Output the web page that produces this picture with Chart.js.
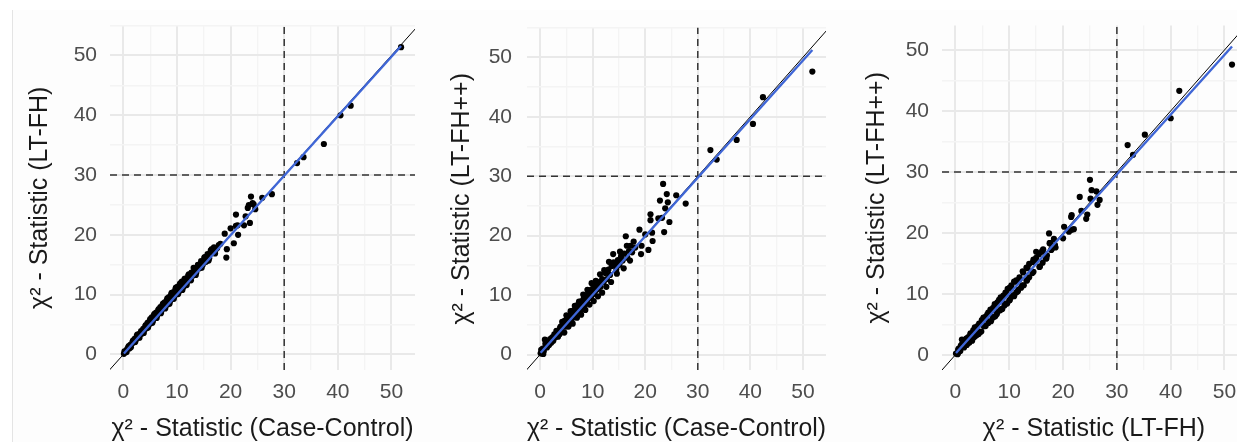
<!DOCTYPE html>
<html>
<head>
<meta charset="utf-8">
<script src="https://cdn.jsdelivr.net/npm/chart.js@4.4.1/dist/chart.umd.min.js"></script>
<style>
  html, body { margin: 0; padding: 0; background: #fff; overflow: hidden; }
  #page { position: relative; width: 1237px; height: 445px; overflow: hidden; }
  #frame { position: absolute; left: 12px; top: 10px; width: 1225px; height: 432px; background: #fdfdfd; border-left: 1px solid #e4e4e4; }
  canvas { position: absolute; top: 0; }
</style>
</head>
<body>
<div id="page">
  <div id="frame"></div>
  <canvas id="p1" width="420" height="445" style="left:0px"></canvas>
  <canvas id="p2" width="410" height="445" style="left:420px"></canvas>
  <canvas id="p3" width="420" height="445" style="left:830px"></canvas>
</div>
<script>
// chi2 statistics per SNP, same SNP order in the three arrays
const ccStat = [
  0.1, 0.3, 0.5, 0.7, 0.9, 1.1, 1.3, 1.5, 1.7, 1.9,
  2.1, 2.3, 2.5, 2.7, 2.9, 3.1, 3.3, 3.5, 3.7, 3.9,
  4.1, 4.3, 4.5, 4.7, 4.9, 5.1, 5.3, 5.5, 5.7, 5.9,
  6.1, 6.3, 6.5, 6.7, 6.9, 7.1, 7.3, 7.5, 7.7, 7.9,
  8.1, 8.3, 8.5, 8.7, 8.9, 9.1, 9.3, 9.5, 9.7, 9.9,
  10.1, 10.3, 10.5, 10.7, 10.9, 11.2, 11.5, 11.8, 12.1, 12.4,
  12.7, 13.0, 13.3, 13.6, 13.9, 14.2, 14.5, 14.8, 15.1, 15.4,
  15.7, 16.0, 16.3, 16.6, 16.9, 17.2, 17.5, 17.8, 18.1, 18.9,
  19.2, 20.6, 19.3, 20.0, 21.4, 21.3, 21.0, 21.0, 22.5, 24.6,
  23.6, 23.4, 25.9, 24.1, 22.8, 24.3, 23.8, 23.2, 27.7, 32.4,
  33.6, 37.4, 40.5, 42.4, 51.8,
  0.2, 0.6, 1.0, 1.4, 1.8, 2.2, 2.6, 3.0, 3.4, 3.8,
  4.2, 4.6, 5.0, 5.4, 5.8, 6.2, 6.6, 7.0, 7.4, 7.8,
  8.2, 8.6, 9.0, 9.4, 9.8, 10.2, 10.6, 11.0, 11.4, 11.8,
  12.2, 12.6, 13.1, 13.5, 14.0, 14.6, 15.2, 15.9, 16.5, 17.1
];
const ltfhStat = [
  0.1, 0.4, 0.6, 0.9, 1.2, 1.0, 1.6, 1.7, 2.1, 2.0,
  2.6, 2.4, 3.1, 2.8, 3.4, 3.3, 3.9, 3.5, 4.3, 4.1,
  4.8, 4.4, 5.3, 4.9, 5.6, 5.2, 6.2, 5.6, 6.6, 6.1,
  7.0, 6.5, 7.4, 7.0, 7.9, 7.3, 8.3, 7.8, 8.7, 8.1,
  9.1, 8.4, 9.6, 8.9, 10.0, 9.3, 10.4, 9.7, 10.9, 10.1,
  11.3, 10.4, 11.7, 10.9, 12.2, 11.3, 12.7, 11.9, 13.2, 12.5,
  13.7, 13.2, 14.3, 13.7, 15.0, 14.4, 15.6, 15.0, 16.2, 15.5,
  16.8, 16.1, 17.4, 17.0, 17.9, 17.5, 17.8, 18.3, 18.5, 20.2,
  16.2, 18.6, 17.6, 21.1, 20.0, 21.6, 23.4, 21.5, 21.6, 24.3,
  22.0, 25.0, 26.2, 25.3, 23.1, 25.1, 26.4, 24.5, 26.8, 32.0,
  33.0, 35.2, 40.0, 41.6, 51.4,
  0.5, 0.4, 1.4, 1.2, 2.3, 2.1, 3.3, 2.8, 3.6, 3.6,
  4.9, 4.5, 5.9, 5.3, 6.8, 6.1, 7.6, 6.9, 8.5, 7.7,
  9.4, 8.5, 10.3, 9.3, 11.2, 10.1, 11.9, 10.8, 12.6, 11.6,
  13.4, 12.4, 14.5, 13.3, 14.9, 14.5, 16.3, 15.7, 17.6, 16.9
];
const ltfhppStat = [
  0.2, 0.2, 1.0, 0.6, 2.5, 1.5, 1.2, 1.9, 1.6, 2.6,
  2.0, 2.9, 2.3, 3.4, 2.9, 4.0, 3.2, 3.9, 3.4, 4.7,
  3.8, 5.1, 4.7, 5.7, 4.7, 6.1, 5.5, 6.2, 5.5, 6.9,
  6.1, 7.4, 6.3, 7.7, 7.1, 8.3, 7.3, 8.6, 7.5, 9.0,
  8.1, 9.4, 8.4, 9.7, 8.9, 10.2, 9.5, 10.8, 9.6, 11.0,
  10.2, 11.4, 10.7, 12.0, 11.0, 12.2, 11.4, 12.7, 12.2, 13.7,
  12.7, 14.3, 13.4, 14.9, 16.9, 15.2, 14.4, 15.9, 15.1, 16.5,
  15.8, 17.0, 19.9, 16.3, 17.4, 18.3, 17.2, 19.0, 18.0, 21.0,
  16.9, 17.6, 18.3, 20.2, 19.1, 20.5, 23.6, 22.6, 22.9, 22.3,
  20.6, 28.7, 26.8, 27.0, 25.9, 25.6, 24.6, 23.0, 25.4, 34.4,
  32.8, 36.1, 38.8, 43.3, 47.6,
  0.8, 0.1, 1.8, 1.7, 1.9, 2.7, 2.8, 3.5, 3.0, 4.5,
  5.5, 3.7, 6.6, 4.7, 7.3, 5.2, 8.2, 6.2, 8.9, 6.7,
  10.1, 7.5, 10.9, 8.4, 12.0, 9.0, 12.4, 9.8, 13.5, 10.4,
  14.2, 11.4, 15.6, 12.2, 15.5, 13.6, 17.3, 14.5, 18.3, 15.8
];

// axis breaks (major every 10, minor in between)
const gridBreaks = [0, 5, 10, 15, 20, 25, 30, 35, 40, 45, 50, 55];
const threshold = 30;

// lm fit: [intercept, slope]
const fitLtfhVsCc = [0.05, 0.995];
const fitPpVsCc = [0.2, 0.985];
const fitPpVsLtfh = [0.2, 0.98];

const FONT = "'Liberation Sans', Arial, sans-serif";

function makePanel(id, xs, ys, xTitle, yTitle, fit, lim, box) {
    const points = xs.map((x, i) => ({x: x, y: ys[i]}));
    const x0 = Math.min(...xs), x1 = Math.max(...xs);
    const lo = Math.min(lim.x[0], lim.y[0]), hi = Math.max(lim.x[1], lim.y[1]);

    const axis = (min, max, title, isY) => ({
        type: 'linear',
        min: min,
        max: max,
        border: {display: false},
        grid: {
            drawTicks: false,
            color: c => (c.tick && c.tick.value % 10 === 0) ? '#e9e9e9' : '#f4f4f4',
            lineWidth: c => (c.tick && c.tick.value % 10 === 0) ? 2 : 1.4
        },
        afterBuildTicks: s => {
            s.ticks = gridBreaks.filter(v => v >= s.min && v <= s.max).map(v => ({value: v}));
        },
        afterFit: s => {
            if (isY) s.width = box.areaLeft;
            else s.height = 445 - box.bottom;
        },
        ticks: {
            autoSkip: false,
            maxRotation: 0,
            padding: isY ? box.tickPad : 10,
            color: '#4d4d4d',
            font: {family: FONT, size: 21},
            callback: v => (v % 10 === 0 ? v : '')
        },
        title: {
            display: true,
            text: title,
            color: '#1a1a1a',
            font: {family: FONT, size: 25},
            padding: isY ? {top: box.yTitlePad, bottom: 0} : {top: 0, bottom: 1}
        }
    });

    const lineDs = (data, color, width, dash) => ({
        data: data,
        showLine: true,
        borderColor: color,
        borderWidth: width,
        borderDash: dash || [],
        pointRadius: 0,
        fill: false
    });

    new Chart(document.getElementById(id), {
        type: 'scatter',
        data: {
            datasets: [
                lineDs([{x: x0, y: fit[0] + fit[1] * x0}, {x: x1, y: fit[0] + fit[1] * x1}], '#3f66d6', 2.4),
                lineDs([{x: lo, y: lo}, {x: hi, y: hi}], '#000000', 1),
                lineDs([{x: threshold, y: lim.y[0]}, {x: threshold, y: lim.y[1]}], '#333333', 1.5, [7, 5]),
                lineDs([{x: lim.x[0], y: threshold}, {x: lim.x[1], y: threshold}], '#333333', 1.5, [7, 5]),
                {
                    data: points,
                    pointRadius: 3.1,
                    pointBackgroundColor: '#000000',
                    pointBorderWidth: 0
                }
            ]
        },
        options: {
            responsive: false,
            animation: false,
            layout: {padding: {left: 0, top: box.top, right: box.width - box.areaRight, bottom: 0}},
            plugins: {legend: {display: false}, tooltip: {enabled: false}},
            scales: {
                x: axis(lim.x[0], lim.x[1], xTitle, false),
                y: axis(lim.y[0], lim.y[1], yTitle, true)
            }
        }
    });
}

makePanel('p1', ccStat, ltfhStat,
    'χ² - Statistic (Case-Control)', 'χ² - Statistic (LT-FH)', fitLtfhVsCc,
    {x: [-2.5, 54.4], y: [-2.6, 55.0]},
    {width: 420, areaLeft: 110, areaRight: 415, top: 23, bottom: 370, yTitlePad: 25, tickPad: 13});

makePanel('p2', ccStat, ltfhppStat,
    'χ² - Statistic (Case-Control)', 'χ² - Statistic (LT-FH++)', fitPpVsCc,
    {x: [-2.5, 54.4], y: [-2.6, 55.0]},
    {width: 410, areaLeft: 107, areaRight: 407, top: 23, bottom: 370, yTitlePad: 27, tickPad: 15});

makePanel('p3', ltfhStat, ltfhppStat,
    'χ² - Statistic (LT-FH)', 'χ² - Statistic (LT-FH++)', fitPpVsLtfh,
    {x: [-2.5, 54.0], y: [-2.5, 54.0]},
    {width: 420, areaLeft: 112, areaRight: 416, top: 23, bottom: 370, yTitlePad: 32, tickPad: 13});
</script>
</body>
</html>
